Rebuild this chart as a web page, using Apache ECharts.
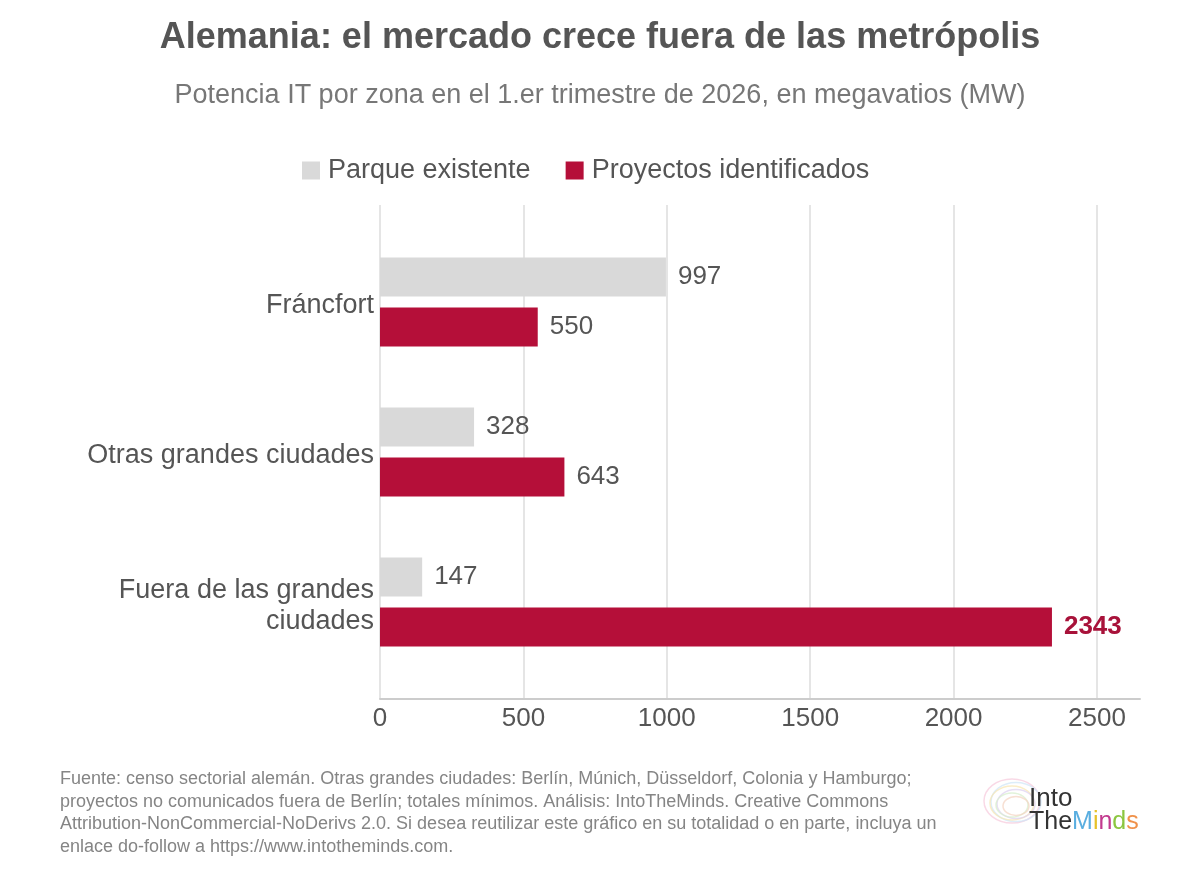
<!DOCTYPE html>
<html>
<head>
<meta charset="utf-8">
<script src="https://cdn.jsdelivr.net/npm/echarts@6/dist/echarts.min.js"></script>
<style>
  html, body { margin: 0; padding: 0; background: #fff; }
  #chart { width: 1200px; height: 877px; }
</style>
</head>
<body>
<div id="chart"></div>
<script>
// Alemania: IT power by zone, Q1 2026 (MW).
const ZONES = ["Fráncfort", "Otras grandes ciudades", "Fuera de las grandes\nciudades"];
const EXISTING = [997, 328, 147];
const PROJECTS = [550, 643, 2343];
const SERIES_NAMES = ["Parque existente", "Proyectos identificados"];
const X_MAX = 2650;
const X_STEP = 500;

const FONT = "Liberation Sans, Arial, sans-serif";
const GREY = "#d9d9d9";
const RED = "#b50f39";
const TEXT = "#555555";

const FOOTNOTE = [
  "Fuente: censo sectorial alemán. Otras grandes ciudades: Berlín, Múnich, Düsseldorf, Colonia y Hamburgo;",
  "proyectos no comunicados fuera de Berlín; totales mínimos. Análisis: IntoTheMinds. Creative Commons",
  "Attribution-NonCommercial-NoDerivs 2.0. Si desea reutilizar este gráfico en su totalidad o en parte, incluya un",
  "enlace do-follow a https://www.intotheminds.com.",
].join("\n");

const chart = echarts.init(document.getElementById("chart"), null, { renderer: "canvas" });

// Highlight the largest value in bold red, like the source.
const maxProject = Math.max(...PROJECTS);
const projectData = PROJECTS.map((v) =>
  v === maxProject
    ? { value: v, label: { color: "#a8123a", fontWeight: "bold" } }
    : v,
);

// faint brain-ish swirls behind the logo
const brainColors = ["#f6c9dc", "#cfe6f6", "#f8e6b0", "#ddd0ef", "#d6eecb", "#f3d3c0"];
const brain = brainColors.map((c, i) => ({
  type: "ellipse",
  shape: { cx: 1012 + (i % 2) * 4, cy: 801 + i, rx: 28 - i * 3, ry: 22 - i * 2.5 },
  style: { stroke: c, lineWidth: 1.5, fill: null, opacity: 0.7 },
  silent: true,
}));

const logoLetters = [
  { t: "M", c: "#5aaee0" },
  { t: "i", c: "#e6c229" },
  { t: "n", c: "#c23a8e" },
  { t: "d", c: "#8cc63f" },
  { t: "s", c: "#f0914a" },
];

chart.setOption({
  backgroundColor: "#ffffff",
  textStyle: { fontFamily: FONT },
  title: [
    {
      text: "Alemania: el mercado crece fuera de las metrópolis",
      left: "center",
      top: 15,
      textStyle: { fontSize: 36, fontWeight: "bold", color: TEXT, fontFamily: FONT },
    },
    {
      text: "Potencia IT por zona en el 1.er trimestre de 2026, en megavatios (MW)",
      left: "center",
      top: 77,
      textStyle: { fontSize: 27, fontWeight: "normal", color: "#777777", fontFamily: FONT },
    },
  ],
  legend: {
    top: 152,
    left: 297,
    icon: "rect",
    itemWidth: 18,
    itemHeight: 18,
    itemGap: 35,
    data: SERIES_NAMES,
    textStyle: { fontSize: 27, color: TEXT, fontFamily: FONT, padding: [0, 0, 0, 3] },
  },
  grid: [
    // axis/gridline frame
    { left: 380, right: 60, top: 205, bottom: 178 },
    // bars, inset so the groups sit like the source
    { left: 380, right: 60, top: 227, bottom: 200 },
    // category labels, nudged down a few px to sit like the source
    { left: 380, right: 60, top: 231, bottom: 196 },
  ],
  xAxis: [
    {
      gridIndex: 0,
      type: "value",
      min: 0,
      max: X_MAX,
      interval: X_STEP,
      axisLine: { show: true, lineStyle: { color: "#cccccc", width: 2 } },
      axisTick: { show: false },
      splitLine: { show: true, showMaxLine: false, lineStyle: { color: "#dddddd", width: 1.5 } },
      axisLabel: {
        fontSize: 26,
        color: TEXT,
        margin: 7,
        showMaxLabel: false,
        formatter: (v) => String(v),
      },
    },
    { gridIndex: 1, type: "value", min: 0, max: X_MAX, show: false },
    { gridIndex: 2, type: "value", min: 0, max: X_MAX, show: false },
  ],
  yAxis: [
    { gridIndex: 0, type: "category", data: ZONES, show: false },
    { gridIndex: 1, type: "category", data: ZONES, inverse: true, show: false },
    {
      gridIndex: 2,
      type: "category",
      data: ZONES,
      inverse: true,
      axisLine: { show: false },
      axisTick: { show: false },
      splitLine: { show: false },
      axisLabel: {
        fontSize: 27,
        color: TEXT,
        margin: 6,
        lineHeight: 31,
        align: "right",
      },
    },
  ],
  series: [
    {
      name: SERIES_NAMES[0],
      type: "bar",
      xAxisIndex: 1,
      yAxisIndex: 1,
      data: EXISTING,
      barWidth: 39,
      barGap: "28%",
      itemStyle: { color: GREY },
      label: { show: true, position: "right", distance: 12, fontSize: 26, color: TEXT },
    },
    {
      name: SERIES_NAMES[1],
      type: "bar",
      xAxisIndex: 1,
      yAxisIndex: 1,
      data: projectData,
      barWidth: 39,
      barGap: "28%",
      itemStyle: { color: RED },
      label: { show: true, position: "right", distance: 12, fontSize: 26, color: TEXT },
    },
  ],
  graphic: [
    {
      type: "text",
      left: 60,
      top: 768,
      style: { text: FOOTNOTE, fontSize: 18, lineHeight: 22.5, fill: "#858585", fontFamily: FONT },
    },
    ...brain,
    {
      type: "text",
      left: 1029,
      top: 786,
      style: { text: "Into", fontSize: 26, fill: "#333333", fontFamily: FONT },
    },
    {
      type: "text",
      left: 1029,
      top: 810,
      style: {
        text: "The{M|M}{i|i}{n|n}{d|d}{s|s}",
        fontSize: 25,
        fill: "#333333",
        fontFamily: FONT,
        rich: Object.fromEntries(
          logoLetters.map((l) => [l.t, { fill: l.c, fontSize: 25, fontFamily: FONT }]),
        ),
      },
    },
  ],
});

window.addEventListener("resize", () => chart.resize());
</script>
</body>
</html>
